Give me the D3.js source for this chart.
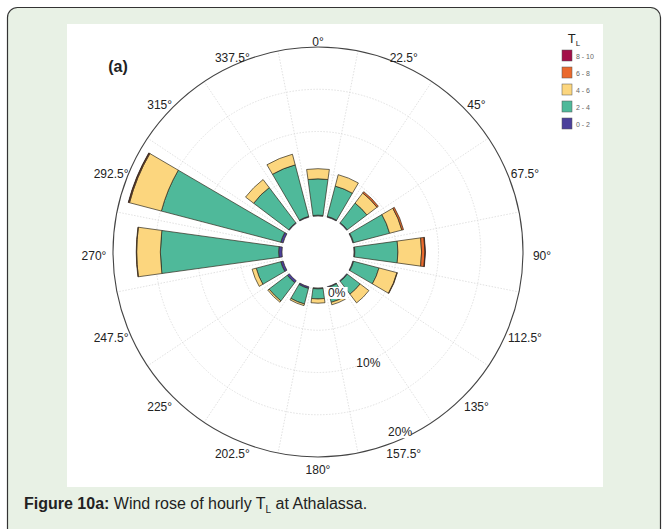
<!DOCTYPE html>
<html>
<head>
<meta charset="utf-8">
<script src="https://d3js.org/d3.v7.min.js"></script>
<style>
  body { margin: 0; background: #fff; }
  text { font-family: "Liberation Sans", Arial, sans-serif; }
</style>
</head>
<body>
<svg width="664" height="529"></svg>
<script>

// wind directions (deg, clockwise from north)
var directions = [0, 22.5, 45, 67.5, 90, 112.5, 135, 157.5, 180, 202.5, 225, 247.5, 270, 292.5, 315, 337.5];

// frequency (%) of each T_L class per direction
var freq0_2  = [0.1, 0.1, 0.1, 0.1, 0.1, 0.1, 0.1, 0.1, 0.1, 0.2, 0.3, 0.3, 0.4, 0.3, 0.1, 0.1];
var freq2_4  = [4.3, 3.7, 2.9, 4.4, 5.1, 3.1, 1.9, 1.8, 1.2, 1.9, 2.7, 3.0, 14.0, 14.6, 5.2, 6.3];
var freq4_6  = [1.2, 1.4, 1.5, 1.5, 2.8, 2.2, 1.3, 0.3, 0.5, 0.2, 0.2, 0.5, 2.8, 3.9, 1.2, 1.3];
var freq6_8  = [0, 0, 0.2, 0.2, 0.4, 0.05, 0, 0, 0, 0, 0, 0, 0.05, 0.1, 0, 0];
var freq8_10 = [0, 0, 0, 0, 0.05, 0, 0, 0, 0, 0, 0, 0, 0, 0.05, 0, 0];

var classNames = ["0 - 2", "2 - 4", "4 - 6", "6 - 8", "8 - 10"];
var colors = ["#4b3f9b", "#4fb99a", "#fcd67e", "#ea692d", "#a30f49"];

var pctTicks = [0, 10, 20];
var gridPct = [5, 10, 15];

var svg = d3.select("svg");
var cx = 318, cy = 252;

// page frame + white panel
svg.append("rect").attr("x", 7.5).attr("y", 7.5).attr("width", 653).attr("height", 560)
  .attr("rx", 10).attr("fill", "#e8f1e5").attr("stroke", "#333").attr("stroke-width", 1.2);
svg.append("rect").attr("x", 67).attr("y", 24).attr("width", 536).attr("height", 463).attr("fill", "#fff");

var r = d3.scaleLinear().domain([0, 20]).range([36, 205]);
var rad = Math.PI / 180;
var barWidth = 15.7;

var rows = directions.map(function(d, i) {
  return {dir: d, c0: freq0_2[i], c1: freq2_4[i], c2: freq4_6[i], c3: freq6_8[i], c4: freq8_10[i]};
});
var keys = ["c0", "c1", "c2", "c3", "c4"];
var stacks = d3.stack().keys(keys)(rows);

var g = svg.append("g").attr("transform", "translate(" + cx + "," + cy + ")");

// grid circles
g.selectAll(".grid").data(gridPct).join("circle")
  .attr("r", function(d) { return r(d); })
  .attr("fill", "none").attr("stroke", "#d9d9d9").attr("stroke-width", 0.8)
  .attr("stroke-dasharray", "1.5,1.5");

// spokes between sectors
g.selectAll(".spoke").data(directions).join("line")
  .attr("x1", function(d) { return r(0) * Math.sin((d + 11.25) * rad); })
  .attr("y1", function(d) { return -r(0) * Math.cos((d + 11.25) * rad); })
  .attr("x2", function(d) { return r(20) * Math.sin((d + 11.25) * rad); })
  .attr("y2", function(d) { return -r(20) * Math.cos((d + 11.25) * rad); })
  .attr("stroke", "#d9d9d9").attr("stroke-width", 0.8).attr("stroke-dasharray", "1.5,1.5");

// outer circle
g.append("circle").attr("r", r(20)).attr("fill", "none").attr("stroke", "#444").attr("stroke-width", 1.1);

var arc = d3.arc()
  .innerRadius(function(d) { return r(d[0]); })
  .outerRadius(function(d) { return r(d[1]); })
  .startAngle(function(d) { return (d.data.dir - barWidth / 2) * rad; })
  .endAngle(function(d) { return (d.data.dir + barWidth / 2) * rad; });

g.selectAll(".layer").data(stacks).join("g")
  .attr("fill", function(d, i) { return colors[i]; })
  .selectAll("path")
  .data(function(d) { return d.filter(function(e) { return e[1] - e[0] > 0; }); })
  .join("path")
  .attr("d", arc)
  .attr("stroke", "#2e2a1c").attr("stroke-width", 0.7);

// direction labels
g.selectAll(".dirlab").data(directions).join("text")
  .attr("x", function(d) { return 224 * Math.sin(d * rad); })
  .attr("y", function(d) { return -214 * Math.cos(d * rad) + 4; })
  .attr("text-anchor", "middle").attr("dominant-baseline", "central")
  .attr("font-size", 12).attr("fill", "#222")
  .text(function(d) { return d + "°"; });

// percentage labels
var pr = d3.scaleLinear().domain([0, 20]).range([45, 198]);
var pAng = 155.5 * rad;
var pl = g.selectAll(".pct").data(pctTicks).join("g")
  .attr("transform", function(d) {
    return "translate(" + (pr(d) * Math.sin(pAng)) + "," + (-pr(d) * Math.cos(pAng)) + ")";
  });
pl.append("rect").attr("x", -11).attr("y", -6).attr("width", 22).attr("height", 12).attr("fill", "#fff");
pl.append("text").attr("text-anchor", "middle").attr("dominant-baseline", "central")
  .attr("font-size", 12).attr("fill", "#222")
  .text(function(d) { return d + "%"; });

// panel tag
svg.append("text").attr("x", 118).attr("y", 72).attr("text-anchor", "middle")
  .attr("font-size", 16).attr("font-weight", "bold").attr("fill", "#222").text("(a)");

// legend
var leg = svg.append("g").attr("transform", "translate(562,50)");
var title = leg.append("text").attr("x", 12).attr("y", -7).attr("text-anchor", "middle")
  .attr("font-size", 13).attr("fill", "#222");
title.append("tspan").text("T");
title.append("tspan").attr("font-size", 8).attr("dy", 3).text("L");

var li = leg.selectAll(".li").data(classNames.slice().reverse()).join("g")
  .attr("transform", function(d, i) { return "translate(0," + (i * 17) + ")"; });
li.append("rect").attr("width", 10).attr("height", 11)
  .attr("fill", function(d, i) { return colors[colors.length - 1 - i]; })
  .attr("stroke", "#555").attr("stroke-width", 0.5);
li.append("text").attr("x", 14).attr("y", 6).attr("dominant-baseline", "central")
  .attr("font-size", 7).attr("fill", "#666").text(function(d) { return d; });

// caption
var cap = svg.append("text").attr("x", 24).attr("y", 509).attr("font-size", 16).attr("fill", "#222");
cap.append("tspan").attr("font-weight", "bold").text("Figure 10a:");
cap.append("tspan").text(" Wind rose of hourly T");
cap.append("tspan").attr("font-size", 10).attr("dy", 4).text("L");
cap.append("tspan").attr("dy", -4).text(" at Athalassa.");

</script>
</body>
</html>
